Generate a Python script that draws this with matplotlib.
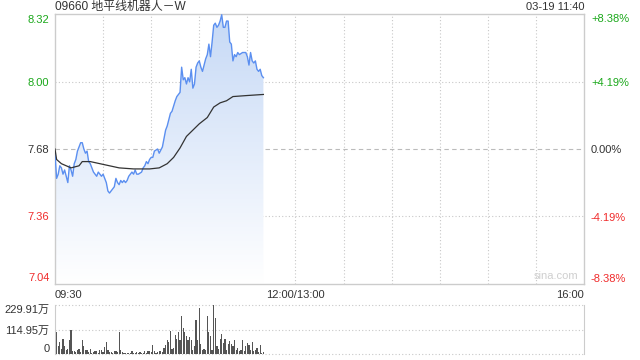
import numpy as np
import matplotlib
matplotlib.use('Agg')
import matplotlib.pyplot as plt
from matplotlib.colors import LinearSegmentedColormap

plt.rcParams['font.family'] = ['Liberation Sans', 'Noto Sans CJK SC', 'DejaVu Sans']

title = '09660 地平线机器人－W'
stamp = '03-19 11:40'
prev_close = 7.68
pct_ticks = [8.38, 4.19, 0.0, -4.19, -8.38]
price_ticks = [8.32, 8.00, 7.68, 7.36, 7.04]

# minute index from 09:30 (lunch break removed, 330 minutes total)
price_min = [0, 1, 2, 3, 4, 5, 6, 7, 8, 9, 10, 11, 12, 13, 14, 15, 16, 17, 18, 19,
             20, 21, 22, 23, 24, 25, 26, 27, 28, 29, 30, 31, 32, 33, 34, 35, 36, 37, 38, 39,
             40, 41, 42, 43, 44, 45, 46, 47, 48, 49, 50, 51, 52, 54, 55, 56, 57, 58, 59, 60,
             61, 62, 64, 65, 67, 68, 69, 70, 71, 72, 73, 75, 76, 78, 79, 80, 81, 82, 83, 84,
             85, 86, 87, 88, 89, 90, 91, 92, 93, 94, 95, 96, 97, 98, 99, 100, 101, 102, 103, 104,
             105, 106, 107, 108, 109, 110, 111, 112, 113, 114, 115, 117, 118, 119, 120, 121, 122, 123, 124, 125,
             126, 127, 128, 129, 130]
price = [7.66, 7.54, 7.56, 7.60, 7.59, 7.56, 7.58, 7.55, 7.52, 7.60, 7.58, 7.55, 7.61, 7.63, 7.67, 7.69, 7.71, 7.71, 7.68, 7.66,
         7.67, 7.62, 7.61, 7.59, 7.57, 7.56, 7.55, 7.57, 7.56, 7.55, 7.56, 7.54, 7.52, 7.48, 7.47, 7.48, 7.49, 7.50, 7.54, 7.52,
         7.51, 7.53, 7.52, 7.53, 7.52, 7.53, 7.55, 7.56, 7.57, 7.56, 7.58, 7.56, 7.56, 7.57, 7.59, 7.60, 7.62, 7.61, 7.63, 7.64,
         7.64, 7.67, 7.68, 7.66, 7.69, 7.73, 7.77, 7.79, 7.82, 7.85, 7.86, 7.91, 7.93, 7.95, 8.07, 8.01, 8.02, 7.99, 8.02, 8.00,
         8.06, 7.97, 7.99, 8.07, 8.09, 8.10, 8.07, 8.05, 8.08, 8.11, 8.13, 8.18, 8.12, 8.19, 8.27, 8.28, 8.26, 8.27, 8.29, 8.32,
         8.26, 8.26, 8.29, 8.29, 8.19, 8.18, 8.10, 8.13, 8.12, 8.14, 8.13, 8.14, 8.14, 8.14, 8.12, 8.08, 8.14, 8.10, 8.09, 8.10,
         8.06, 8.05, 8.06, 8.03, 8.02]

avg_min = [0, 1, 4, 7, 10, 15, 17, 22, 28, 34, 40, 49, 59, 65, 70, 74, 78, 82, 86, 90, 95, 99, 103, 107, 111, 120, 130]
avg_price = [7.68, 7.63, 7.61, 7.60, 7.59, 7.60, 7.62, 7.62, 7.61, 7.60, 7.59, 7.585, 7.585, 7.59, 7.61, 7.64, 7.685,
             7.74, 7.77, 7.80, 7.83, 7.88, 7.90, 7.91, 7.93, 7.935, 7.94]

# volume per minute, in 万 shares
volume = [83, 102, 36, 55, 23, 72, 36, 20, 23, 64,
          111, 12, 16, 9, 17, 23, 10, 67, 36, 17,
          20, 8, 23, 5, 10, 16, 12, 6, 17, 20,
          8, 33, 55, 17, 8, 9, 6, 12, 12, 10,
          102, 17, 8, 5, 4, 6, 3, 4, 12, 4,
          6, 8, 4, 10, 5, 7, 12, 6, 15, 12,
          8, 44, 12, 6, 10, 12, 16, 10, 28, 44,
          67, 56, 109, 25, 30, 88, 70, 102, 67, 180,
          122, 102, 83, 67, 80, 64, 20, 36, 161, 67,
          217, 48, 17, 23, 20, 180, 102, 83, 17, 230,
          169, 39, 23, 70, 95, 52, 70, 20, 48, 62,
          48, 39, 67, 20, 28, 15, 20, 67, 12, 36,
          52, 44, 17, 55, 12, 20, 28, 8, 44, 5, 10]
vol_ticks = [0, 114.95, 229.91]

green = '#1aa81a'
red = '#f02b2b'
grey_txt = '#333333'
grid_c = '#c8c8c8'
border_c = '#cccccc'

lo = prev_close * (1 - pct_ticks[0] / 100)
hi = prev_close * (1 + pct_ticks[0] / 100)

fig = plt.figure(figsize=(6.4, 3.6), dpi=100)
ax = fig.add_axes([55 / 640, 1 - 284 / 360, 529 / 640, 270 / 360])
axv = fig.add_axes([55 / 640, 1 - 354 / 360, 529 / 640, 49 / 360])

# gradient fill under price line
cmap = LinearSegmentedColormap.from_list('fill', ['#c6d9f6', '#ffffff'])
grad = np.linspace(0, 1, 256).reshape(-1, 1)
im = ax.imshow(grad, cmap=cmap, aspect='auto', extent=[0, 330, lo, hi], origin='upper', zorder=1)
poly = ax.fill_between(price_min, price, lo, color='none', lw=0)
clip = poly.get_paths()[0]
im.set_clip_path(clip, transform=ax.transData)

ax.plot(price_min, price, color='#5b8ff0', lw=1.0, zorder=3)
ax.plot(avg_min, avg_price, color='#333333', lw=0.9, zorder=3)

ax.set_xlim(0, 330)
ax.set_ylim(lo, hi)

for m in range(30, 330, 30):
    ax.axvline(m, color=grid_c, ls=(0, (1, 2)), lw=0.8, zorder=0)
for p in [price_ticks[1], price_ticks[3]]:
    ax.axhline(p, color=grid_c, ls=(0, (1, 2)), lw=0.8, zorder=0)
ax.axhline(prev_close, color='#bbbbbb', ls=(0, (4, 3)), lw=0.8, zorder=0)

for s in ax.spines.values():
    s.set_color(border_c)
    s.set_linewidth(1)

tick_colors = [green, green, grey_txt, red, red]
ax.set_yticks(price_ticks)
ax.set_yticklabels([f'{p:.2f}' for p in price_ticks], fontsize=8)
ax.tick_params(axis='y', length=0, pad=4)
for lab, c in zip(ax.get_yticklabels(), tick_colors):
    lab.set_color(c)
ax.get_yticklabels()[0].set_va('top')
ax.get_yticklabels()[-1].set_va('bottom')

axr = ax.twinx()
axr.set_ylim(lo, hi)
axr.set_yticks([prev_close * (1 + q / 100) for q in pct_ticks])
axr.set_yticklabels([('+' if q > 0 else '') + f'{q:.2f}%' for q in pct_ticks], fontsize=8)
axr.tick_params(axis='y', length=0, pad=5)
for lab, c in zip(axr.get_yticklabels(), tick_colors):
    lab.set_color(c)
axr.get_yticklabels()[0].set_va('top')
axr.get_yticklabels()[-1].set_va('bottom')
for s in axr.spines.values():
    s.set_visible(False)

ax.set_xticks([0, 150, 330])
ax.set_xticklabels(['09:30', '12:00/13:00', '16:00'], fontsize=8, color=grey_txt)
ax.tick_params(axis='x', length=0, pad=4)
xl = ax.get_xticklabels()
xl[0].set_ha('left')
xl[-1].set_ha('right')

ax.text(0.99, 0.012, 'sina.com', transform=ax.transAxes, ha='right', va='bottom',
        fontsize=8, color='#cfcfcf')

fig.text(55 / 640, 1 - 7 / 360, title, ha='left', va='center', fontsize=8.6, color=grey_txt)
fig.text(584 / 640, 1 - 7 / 360, stamp, ha='right', va='center', fontsize=8, color=grey_txt)

# volume panel
axv.bar(np.arange(len(volume)), volume, width=0.75, color='#555555', zorder=2)
axv.set_xlim(0, 330)
axv.set_ylim(0, vol_ticks[-1])
for v in vol_ticks:
    axv.axhline(v, color=grid_c, ls=(0, (1, 2)), lw=0.8, zorder=0, clip_on=False)
axv.set_xticks([])
axv.set_yticks(vol_ticks)
axv.set_yticklabels(['0', '114.95万', '229.91万'], fontsize=8, color=grey_txt)
axv.tick_params(axis='y', length=0, pad=4)
axv.get_yticklabels()[0].set_va('bottom')
axv.get_yticklabels()[-1].set_va('top')
axv.spines['top'].set_visible(False)
axv.spines['bottom'].set_visible(False)
axv.spines['left'].set_color(border_c)
axv.spines['right'].set_color(border_c)

fig.savefig('out.png', dpi=100)
